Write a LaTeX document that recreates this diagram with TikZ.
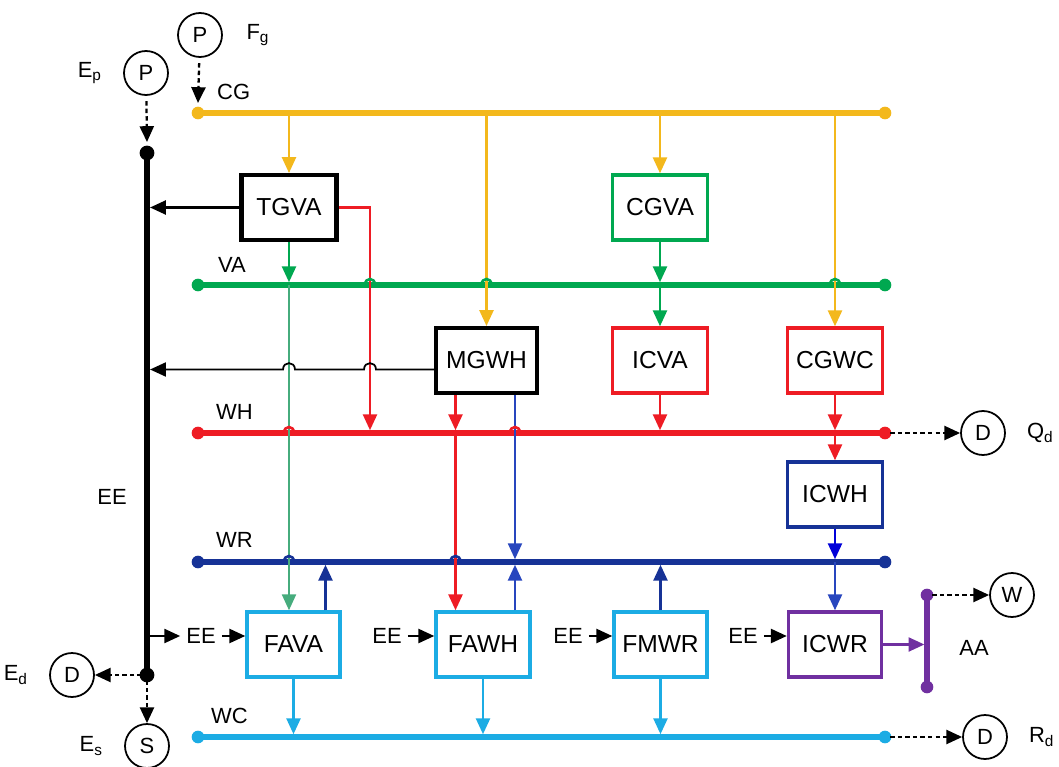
\documentclass[tikz,border=0pt]{standalone}
\usepackage{fontspec}
\setmainfont{Liberation Sans}
\usetikzlibrary{arrows.meta,positioning}

\definecolor{cgyellow}{RGB}{243,184,28}
\definecolor{vagreen}{RGB}{0,168,80}
\definecolor{vathin}{RGB}{70,172,125}
\definecolor{whred}{RGB}{238,28,36}
\definecolor{wrblue}{RGB}{22,50,150}
\definecolor{wrthin}{RGB}{40,70,190}
\definecolor{wcblue}{RGB}{28,172,228}
\definecolor{aapurple}{RGB}{112,48,160}

\begin{document}
\begin{tikzpicture}[x=0.02cm, y=-0.02cm,
	every node/.style={font=\fontsize{12.5}{14}\selectfont},
	>={Triangle[length=9pt, width=8pt]},
	unit/.style={draw, line width=2pt, fill=white, minimum width=1.9cm, minimum height=1.3cm, inner sep=0pt, font=\fontsize{14}{16}\selectfont},
	bus/.style={line width=3.5pt},
	tap/.style={line width=1.2pt, ->},
	tobus/.style={tap, shorten >=1.6pt},
	endpt/.style={circle, fill, inner sep=0pt, minimum size=7pt},
	ext/.style={draw, circle, line width=1pt, minimum size=0.88cm, inner sep=0pt},
	dotflow/.style={->, line width=1.3pt, dash pattern=on 2.5pt off 1.8pt, shorten <=3pt}]
	\useasboundingbox (0,0) rectangle (1059,767);

	% buses
	\foreach \n/\y/\col in {cg/113/cgyellow, va/285/vagreen, wh/433/whred, wr/562/wrblue, wc/737/wcblue} {
		\coordinate (\n-w) at (198,\y);
		\coordinate (\n-e) at (885,\y);
		\draw[bus, \col] (\n-w) -- (\n-e);
		\fill[\col] (\n-w) circle (3.6pt) (\n-e) circle (3.6pt);
	}
	\coordinate (ee-n) at (147,153);
	\coordinate (ee-s) at (147,675);
	\draw[bus] (ee-n) -- (ee-s);
	\fill (ee-n) circle (4.2pt) (ee-s) circle (4.2pt);
	\coordinate (aa-n) at (927,595);
	\coordinate (aa-s) at (927,687);
	\draw[aapurple, line width=3pt] (aa-n) -- (aa-s);
	\fill[aapurple] (aa-n) circle (3.6pt) (aa-s) circle (3.6pt);

	% bus labels
	\node[anchor=west] (lblCG) at (211,92) {CG};
	\node[anchor=west] (lblVA) at (212,265) {VA};
	\node[anchor=west] (lblWH) at (210,412) {WH};
	\node[anchor=west] (lblWR) at (210,540) {WR};
	\node[anchor=west] (lblWC) at (205,716) {WC};
	\node (lblEE) at (112,497) {EE};
	\node (lblAA) at (974,648) {AA};

	% units
	\node[unit, line width=2.3pt] (TGVA) at (289,207.5) {TGVA};
	\node[unit, draw=vagreen] (CGVA) at (660,207.5) {CGVA};
	\node[unit, line width=2.3pt, minimum width=2.02cm] (MGWH) at (486.5,360.5) {MGWH};
	\node[unit, draw=whred] (ICVA) at (660,360.5) {ICVA};
	\node[unit, draw=whred] (CGWC) at (835,360.5) {CGWC};
	\node[unit, draw=wrblue] (ICWH) at (835,494.5) {ICWH};
	\node[unit, draw=wcblue, minimum width=1.86cm] (FAVA) at (293.5,644.5) {FAVA};
	\node[unit, draw=wcblue, minimum width=1.88cm] (FAWH) at (483,644.5) {FAWH};
	\node[unit, draw=wcblue, minimum width=1.86cm] (FMWR) at (660.5,644.5) {FMWR};
	\node[unit, draw=aapurple, minimum width=1.86cm] (ICWR) at (835,644.5) {ICWR};

	% sources and sinks
	\node[ext] (pFg) at (200,35) {P};
	\node[right=0.35cm of pFg] (lblFg) {F\textsubscript{g}};
	\node[ext] (pEp) at (146,73) {P};
	\node[left=0.3cm of pEp] (lblEp) {E\textsubscript{p}};
	\node[ext] (dEd) at (72,675) {D};
	\node[left=0.3cm of dEd] (lblEd) {E\textsubscript{d}};
	\node[ext] (sEs) at (147,746) {S};
	\node[left=0.3cm of sEs] (lblEs) {E\textsubscript{s}};
	\node[ext] (dQd) at (983,433) {D};
	\node[right=0.3cm of dQd] (lblQd) {Q\textsubscript{d}};
	\node[ext] (dRd) at (985,737) {D};
	\node[right=0.3cm of dRd] (lblRd) {R\textsubscript{d}};
	\node[ext] (wW) at (1012,595) {W};

	\draw[dotflow] (pFg) -- ([yshift=0.2cm]cg-w);
	\draw[dotflow] (pEp) -- ([yshift=0.22cm]ee-n);
	\draw[dotflow] (ee-s) -- (dEd);
	\draw[dotflow] (ee-s) -- (sEs);
	\draw[dotflow] (wh-e) -- (dQd);
	\draw[dotflow] (wc-e) -- (dRd);
	\draw[dotflow] (aa-n) -- (wW);

	% yellow taps
	\foreach \u in {TGVA, MGWH, CGVA, CGWC}
		\draw[tap, cgyellow] (\u.north |- cg-w) -- (\u.north);

	% green
	\draw[tobus, vagreen] (TGVA.south) -- (TGVA.south |- va-w);
	\draw[tap, vathin, line width=1pt] (TGVA.south |- va-w) -- (TGVA.south |- FAVA.north);
	\draw[tobus, vagreen] (CGVA.south) -- (CGVA.south |- va-w);
	\draw[tap, vagreen] (CGVA.south |- va-w) -- (ICVA.north);

	% red
	\coordinate (tgRed) at (370,433);
	\draw[tobus, whred] (TGVA.east) -| (tgRed);
	\coordinate (mgRed) at ([xshift=-0.62cm]MGWH.south);
	\coordinate (mgBlue) at ([xshift=0.57cm]MGWH.south);
	\draw[tobus, whred] (mgRed) -- (mgRed |- wh-w);
	\draw[tap, whred] (mgRed |- wh-w) -- (mgRed |- FAWH.north);
	\draw[tobus, whred] (ICVA.south) -- (ICVA.south |- wh-w);
	\draw[tobus, whred] (CGWC.south) -- (CGWC.south |- wh-w);
	\draw[tap, whred] (CGWC.south |- wh-w) -- (ICWH.north);

	% blue
	\draw[tobus, wrthin, line width=1pt] (mgBlue) -- (mgBlue |- wr-w);
	\draw[tobus, wrthin] (mgBlue |- FAWH.north) -- (mgBlue |- wr-w);
	\coordinate (favaUp) at ([xshift=0.64cm]FAVA.north);
	\draw[tobus, wrblue] (favaUp) -- (favaUp |- wr-w);
	\draw[tobus, wrblue] (FMWR.north) -- (FMWR.north |- wr-w);
	\draw[tobus, blue!85!black] (ICWH.south) -- (ICWH.south |- wr-w);
	\draw[tap, wrthin] (ICWH.south |- wr-w) -- (ICWR.north);

	% cyan
	\foreach \u in {FAVA, FAWH, FMWR}
		\draw[tobus, wcblue] (\u.south) -- (\u.south |- wc-w);

	% purple
	\draw[tap, aapurple, shorten >=1.5pt] (ICWR.east) -- (ICWR.east -| aa-n);

	% electricity
	\draw[tap, shorten >=1.75pt] (TGVA.west) -- (TGVA.west -| ee-n);
	\coordinate (mgL) at ([yshift=-0.18cm]MGWH.west);
	\draw[tap, line width=1pt, shorten >=1.75pt] (mgL) -- (376,369.5) .. controls (376,361) and (364,361) .. (364,369.5)
		-- (295,369.5) .. controls (295,361) and (283,361) .. (283,369.5) -- (mgL -| ee-n);
	\node (eeA) at (201,636) {EE};
	\node (eeB) at (387,636) {EE};
	\node (eeC) at (568,636) {EE};
	\node (eeD) at (743,636) {EE};
	\draw[tap] (eeA -| ee-n) -- (eeA.west);
	\draw[tap] (eeA) -- (eeA -| FAVA.west);
	\draw[tap] (eeB) -- (eeB -| FAWH.west);
	\draw[tap] (eeC) -- (eeC -| FMWR.west);
	\draw[tap] (eeD) -- (eeD -| ICWR.west);

	% crossings
	\foreach \x/\y/\col in {370/285/vagreen, 486.5/285/vagreen, 835/285/vagreen, 289/433/whred, 515/433/whred, 289/562/wrblue, 455.5/562/wrblue}
		\draw[\col, line width=1.5pt] ({\x-5},\y) .. controls ({\x-5},{\y-8}) and ({\x+5},{\y-8}) .. ({\x+5},\y);
\end{tikzpicture}
\end{document}
